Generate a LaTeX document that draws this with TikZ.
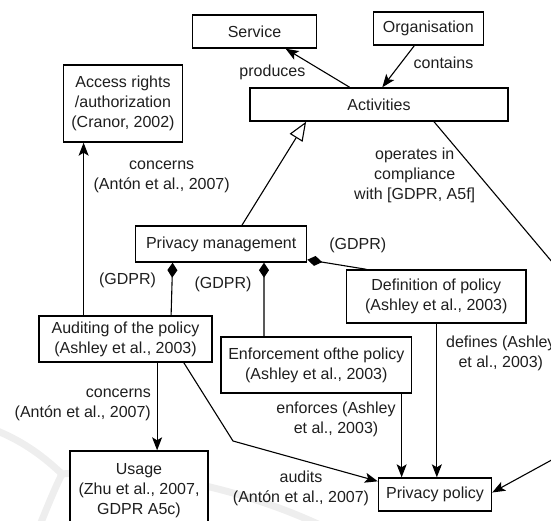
\documentclass[tikz,border=0pt]{standalone}
\usepackage{fontspec}
\setmainfont{Liberation Sans}
\usetikzlibrary{arrows.meta}
\definecolor{txt}{HTML}{1E1E1E}
\definecolor{wm}{HTML}{EEEEEE}
\begin{document}
\begin{tikzpicture}[x=1pt,y=-1pt,
  box/.style={draw, line width=1.4pt, align=center, inner sep=0pt, text=txt, font=\fontsize{16}{20}\selectfont},
  lbl/.style={align=center, inner sep=0pt, text=txt, font=\fontsize{16}{20}\selectfont},
  conn/.style={line width=1.1pt},
  arr/.style={conn, -{Stealth[length=13pt,width=10pt,inset=3pt]}},
  tri/.style={conn, -{Triangle[open,length=19pt,width=15pt]}},
  diam/.style={conn, -{Diamond[length=15pt,width=10pt]}},
  wmark/.style={draw=wm, line width=7pt, line cap=round}]
\useasboundingbox (0,0) rectangle (551,520);
\clip (0,0) rectangle (551,520);
% faint watermark
\draw[wmark] (-5,430) .. controls (25,442) and (45,458) .. (62,474);
\draw[wmark] (40,525) .. controls (48,505) and (55,488) .. (62,474);
\draw[wmark] (62,474) .. controls (140,466) and (240,488) .. (320,525);
% boxes
\node[box, minimum width=124pt, minimum height=33pt] (service) at (254.5,31.5) {Service};
\node[box, minimum width=110pt, minimum height=33pt] (org) at (428.3,28.5) {Organisation};
\node[box, minimum width=258pt, minimum height=33pt] (act) at (379,104.5) {Activities};
\node[box, minimum width=119pt, minimum height=77pt] (access) at (123,103.5) {Access rights\\/authorization\\(Cranor, 2002)};
\node[box, minimum width=171pt, minimum height=36pt] (pm) at (221.2,244) {Privacy management};
\node[box, minimum width=179.5pt, minimum height=53pt] (def) at (436.3,296.5) {Definition of policy\\(Ashley et al., 2003)};
\node[box, minimum width=173pt, minimum height=46pt] (aud) at (125.5,339) {Auditing of the policy\\(Ashley et al., 2003)};
\node[box, minimum width=190.5pt, minimum height=56pt] (enf) at (316.3,365) {Enforcement ofthe policy\\(Ashley et al., 2003)};
\node[box, fill=white, minimum width=138pt, minimum height=79pt] (usage) at (139,490.5) {Usage\\(Zhu et al., 2007,\\GDPR A5c)};
\node[box, minimum width=113pt, minimum height=33pt] (pp) at (435,494.5) {Privacy policy};
% labels
\node[lbl] (lprod) at (272.4,72) {produces};
\node[lbl] (lcont) at (443.5,63) {contains};
\node[lbl] (lconc1) at (161.7,177) {concerns\\(Antón et al., 2007)};
\node[lbl] (lops) at (414.7,175) {operates in\\compliance\\with [GDPR, A5f]};
\node[lbl] (lg1) at (357.7,245) {(GDPR)};
\node[lbl] (lg2) at (127.5,280) {(GDPR)};
\node[lbl] (lg3) at (223,284) {(GDPR)};
\node[lbl, align=right, anchor=east] (lconc2) at (151,405) {concerns\\(Antón et al., 2007)};
\node[lbl] (lenf) at (336,419.5) {enforces (Ashley\\et al., 2003)};
\node[lbl] (laud) at (301,488) {audits\\(Antón et al., 2007)};
\node[lbl] (ldef) at (500.8,353) {defines (Ashley\\et al., 2003)};
% connectors
\draw[arr] ([xshift=100.4pt]act.north west) -- ([xshift=93.8pt]service.south west);
\draw[arr] ([xshift=41.7pt]org.south west) -- ([xshift=133pt]act.north west);
\draw[tri] ([xshift=106.9pt]pm.north west) -- ([xshift=56.8pt]act.south west);
\coordinate (c1) at (590,307);
\coordinate (c2) at (590,439);
\draw[arr] ([xshift=184.7pt]act.south west) -- (c1) -- (c2) -- ([yshift=2pt]pp.east);
\draw[arr] ([xshift=91pt]def.south west) -- ([xshift=91pt]def.south west |- pp.north);
\draw[arr] ([xshift=181.3pt]enf.south west) -- ([xshift=181.3pt]enf.south west |- pp.north);
\coordinate (bend) at (233,441);
\draw[arr] ([xshift=145.5pt]aud.south west) -- (bend) -- ([yshift=-4pt]pp.north west);
\draw[arr] ([xshift=118.8pt]aud.south west) -- ([xshift=118.8pt]aud.south west |- usage.north);
\draw[arr] ([xshift=45.3pt]aud.north west) -- ([xshift=45.3pt]aud.north west |- access.south);
\draw[diam] ([xshift=132.8pt]aud.north west) -- ([xshift=37.6pt]pm.south west);
\draw[diam] ([xshift=43.6pt]enf.north west) -- ([xshift=129pt]pm.south west);
\draw[diam] ([xshift=20.5pt]def.north west) -- ([yshift=3pt]pm.south east);
\end{tikzpicture}
\end{document}
